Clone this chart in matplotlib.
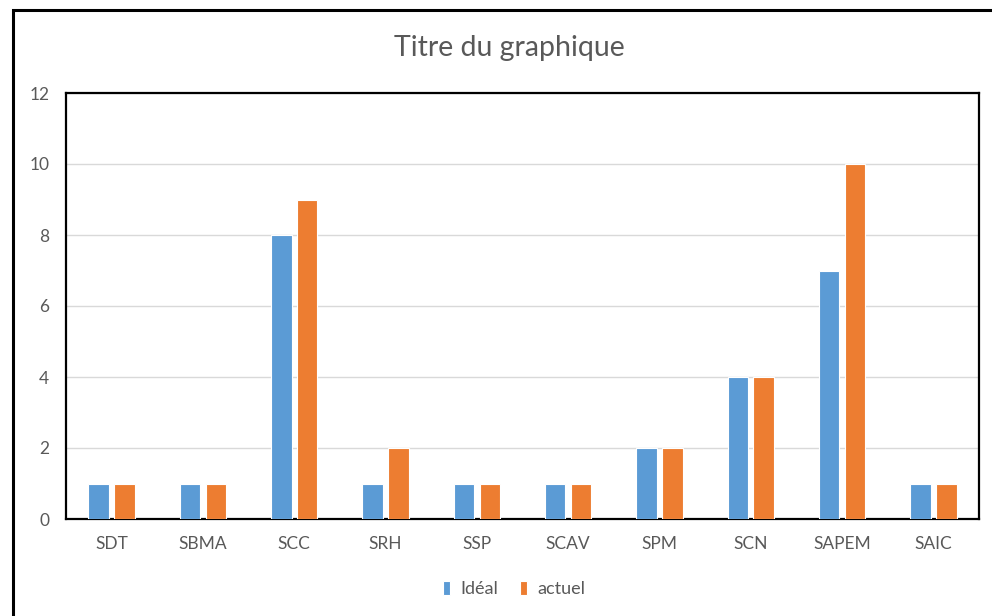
import numpy as np
import matplotlib.pyplot as plt
from matplotlib.patches import Rectangle

plt.rcParams["font.family"] = ["Lato", "DejaVu Sans"]

categories = ["SDT", "SBMA", "SCC", "SRH", "SSP", "SCAV", "SPM", "SCN", "SAPEM", "SAIC"]
ideal = [1, 1, 8, 1, 1, 1, 2, 4, 7, 1]
actuel = [1, 1, 9, 2, 1, 1, 2, 4, 10, 1]
series_names = ["Idéal", "actuel"]
yticks = [0, 2, 4, 6, 8, 10, 12]

blue = "#5B9BD5"
orange = "#ED7D31"
txt = "#595959"

fig = plt.figure(figsize=(9.92, 6.16), dpi=100)
ax = fig.add_axes([66 / 992, 1 - 519 / 616, 913 / 992, 426 / 616])

x = np.arange(len(categories))
w = 0.224
off = 0.142
ax.bar(x - off, ideal, w, color=blue, edgecolor="white", linewidth=0.8, label=series_names[0], zorder=3)
ax.bar(x + off, actuel, w, color=orange, edgecolor="white", linewidth=0.8, label=series_names[1], zorder=3)

ax.set_xlim(-0.5, len(categories) - 0.5)
ax.set_ylim(0, 12)
ax.set_yticks(yticks)
ax.set_xticks(x)
ax.set_xticklabels(categories)
ax.tick_params(axis="both", length=0, colors=txt, labelsize=12.5)
ax.tick_params(axis="y", pad=12)
ax.tick_params(axis="x", pad=12)
ax.grid(axis="y", color="#D9D9D9", linewidth=1, zorder=0)
for s in ax.spines.values():
    s.set_linewidth(1.6)
    s.set_color("black")

fig.text(509 / 992, 1 - 48 / 616, "Titre du graphique", ha="center", va="center",
         fontsize=20.5, color=txt)

leg = fig.legend(loc="center", bbox_to_anchor=(514 / 992, 1 - 589 / 616), ncol=2,
                 frameon=False, fontsize=13, handlelength=0.42, handleheight=0.85,
                 handletextpad=0.55, columnspacing=1.2)
for t in leg.get_texts():
    t.set_color(txt)

# outer chart border (runs off the right and bottom of the picture)
fig.patches.append(Rectangle((13 / 992, -0.1), 1.2, 1 - 10 / 616 + 0.1,
                             transform=fig.transFigure, fill=False,
                             edgecolor="black", linewidth=2.2))

fig.savefig("out.png", dpi=100)
